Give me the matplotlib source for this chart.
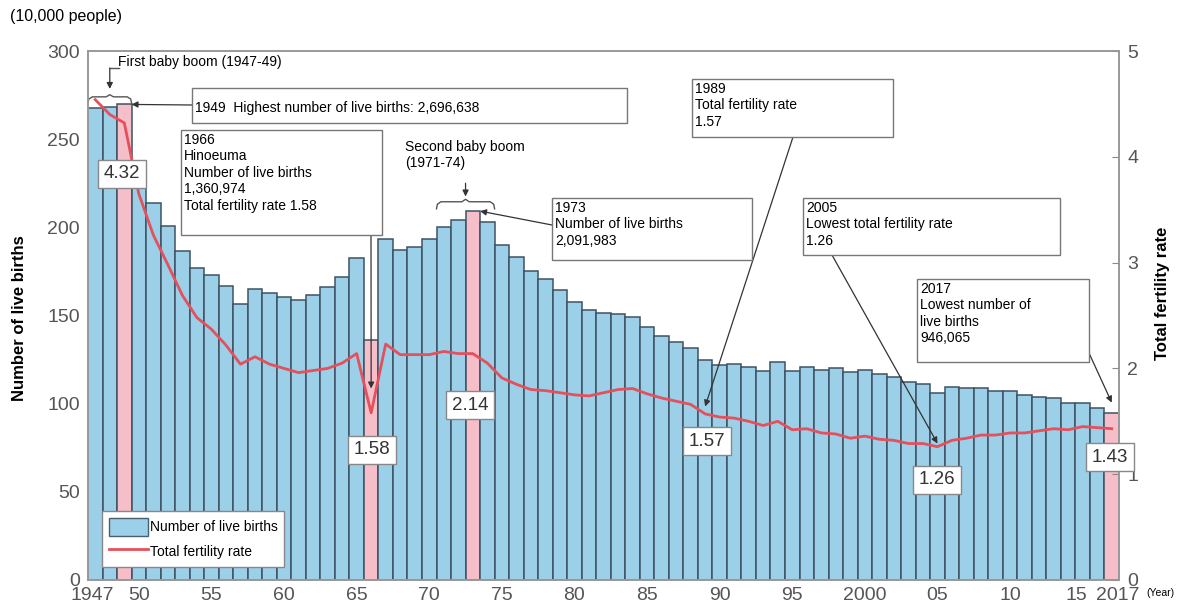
"""Naissances vivantes et indice de fécondité au Japon, 1947-2017."""

import matplotlib

matplotlib.use("Agg")
import matplotlib.pyplot as plt
import matplotlib.transforms as mtransforms
from matplotlib.lines import Line2D
from matplotlib.patches import Patch, Rectangle

plt.rcParams["font.family"] = ["Liberation Sans", "DejaVu Sans"]

# ---- données -------------------------------------------------------------
annees = list(range(1947, 2018))

# naissances vivantes (unité : 10 000 personnes)
naissances = [
    267.9, 268.2, 269.7, 233.8, 213.8, 200.5, 186.8, 177.0, 173.1, 166.5,
    156.7, 165.3, 162.6, 160.6, 158.9, 161.9, 166.0, 171.7, 182.4, 136.1,
    193.6, 187.2, 188.9, 193.4, 200.1, 203.9, 209.2, 203.0, 190.1, 183.3,
    175.5, 170.9, 164.3, 157.7, 152.9, 151.5, 150.9, 149.0, 143.2, 138.3,
    134.7, 131.4, 124.7, 122.2, 122.3, 120.9, 118.8, 123.8, 118.7, 120.7,
    119.2, 120.3, 117.8, 119.1, 117.1, 115.4, 112.4, 111.1, 106.3, 109.3,
    109.0, 109.1, 107.0, 107.1, 105.1, 103.7, 103.0, 100.4, 100.6, 97.7,
    94.6,
]

# indice synthétique de fécondité
fecondite = [
    4.54, 4.40, 4.32, 3.65, 3.26, 2.98, 2.69, 2.48, 2.37, 2.22,
    2.04, 2.11, 2.04, 2.00, 1.96, 1.98, 2.00, 2.05, 2.14, 1.58,
    2.23, 2.13, 2.13, 2.13, 2.16, 2.14, 2.14, 2.05, 1.91, 1.85,
    1.80, 1.79, 1.77, 1.75, 1.74, 1.77, 1.80, 1.81, 1.76, 1.72,
    1.69, 1.66, 1.57, 1.54, 1.53, 1.50, 1.46, 1.50, 1.42, 1.43,
    1.39, 1.38, 1.34, 1.36, 1.33, 1.32, 1.29, 1.29, 1.26, 1.32,
    1.34, 1.37, 1.37, 1.39, 1.39, 1.41, 1.43, 1.42, 1.45, 1.44,
    1.43,
]

annees_roses = [1949, 1966, 1973, 2017]
annees_etiquettes = [1949, 1966, 1973, 1989, 2005, 2017]
baby_booms = [(1947, 1949), (1971, 1974)]

ticks_x = [1947, 1950, 1955, 1960, 1965, 1970, 1975, 1980, 1985, 1990,
           1995, 2000, 2005, 2010, 2015, 2017]
labels_x = ["1947", "50", "55", "60", "65", "70", "75", "80", "85", "90",
            "95", "2000", "05", "10", "15", "2017"]

# ---- style ---------------------------------------------------------------
BLEU = "#9ccfe8"
ROSE = "#f6bec8"
BORD = "#3d5262"
ROUGE = "#e4505c"
GRIS = "#555555"

W, H = 1182, 607


def fpx(x, y):
    """Pixel de l'image (origine en haut à gauche) -> fraction de figure."""
    return (x / W, 1 - y / H)


fig = plt.figure(figsize=(W / 100, H / 100), dpi=100)
ax = fig.add_axes([88 / W, 1 - 580 / H, (1119 - 88) / W, (580 - 51) / H])
ax2 = ax.twinx()

couleurs = [ROSE if a in annees_roses else BLEU for a in annees]
ax.bar(annees, naissances, width=1.0, color=couleurs, edgecolor=BORD,
       linewidth=1.1)
ax2.plot(annees, fecondite, color=ROUGE, lw=2)

ax.set_xlim(annees[0] - 0.5, annees[-1] + 0.5)
ax.set_ylim(0, 300)
ax2.set_ylim(0, 5)
ax.set_yticks(range(0, 301, 50))
ax2.set_yticks(range(0, 6))
ax.set_xticks(ticks_x)
ax.set_xticklabels(labels_x)

ax.tick_params(axis="y", length=0, pad=6, labelsize=14, labelcolor=GRIS)
ax.tick_params(axis="x", length=0, pad=5, labelsize=14, labelcolor=GRIS)
ax2.tick_params(axis="y", direction="in", length=5, color="#888", pad=6,
                labelsize=14, labelcolor=GRIS)
for a in (ax, ax2):
    for s in a.spines.values():
        s.set_color("#999999")
        s.set_linewidth(1.2)

# "15" et "2017" sont écartés l'un de l'autre comme sur l'original
decalages = {"1947": -3, "15": -6, "2017": 6}
for lbl in ax.get_xticklabels():
    dx = decalages.get(lbl.get_text(), 0)
    if dx:
        lbl.set_transform(lbl.get_transform() + mtransforms.ScaledTranslation(
            dx / 100, 0, fig.dpi_scale_trans))

fig.text(*fpx(20, 318), "Number of live births", rotation=90, ha="center",
         va="center", fontsize=12, fontweight="bold")
fig.text(*fpx(1162, 293), "Total fertility rate", rotation=90, ha="center",
         va="center", fontsize=12, fontweight="bold")
fig.text(*fpx(10, 17), "(10,000 people)", ha="left", va="center",
         fontsize=11.5)
fig.text(*fpx(1146, 593), "(Year)", ha="left", va="center", fontsize=7.5)

# ---- légende -------------------------------------------------------------
poignees = [Patch(facecolor=BLEU, edgecolor="#4a6070", lw=1),
            Line2D([], [], color=ROUGE, lw=2)]
leg = ax.legend(poignees, ["Number of live births", "Total fertility rate"],
                loc="lower left", bbox_to_anchor=(0.014, 0.024), fontsize=10,
                frameon=True, fancybox=False, edgecolor="#888888",
                framealpha=1, handlelength=2.8, handleheight=1.6,
                handletextpad=0.1, borderpad=0.5, labelspacing=0.5,
                borderaxespad=0)
leg.get_frame().set_linewidth(1)

# ---- accolades des baby-booms --------------------------------------------
def accolade(debut, fin, y, h):
    x0, x1 = debut - 0.5, fin + 0.5
    xm = (x0 + x1) / 2
    xs = [x0, x0 + 0.06, x0 + 0.3, xm - 0.25, xm, xm + 0.25, x1 - 0.3,
          x1 - 0.06, x1]
    ys = [y - h, y - h * 0.35, y, y, y + h * 0.35, y, y, y - h * 0.35, y - h]
    ax.plot(xs, ys, color="#555555", lw=1, clip_on=False)
    return xm


FLECHE = dict(arrowstyle="-|>", color="#333333", lw=0.9, mutation_scale=9,
              shrinkA=0, shrinkB=0)

xm1 = accolade(*baby_booms[0], 274, 3.5)
ax.plot([xm1, xm1 + 0.62], [290.4, 290.4], color="#555555", lw=1,
        clip_on=False)
ax.annotate("", xy=(xm1, 278.5), xytext=(xm1, 290.4), arrowprops=FLECHE,
            annotation_clip=False)
fig.text(*fpx(118, 62), "First baby boom (1947-49)", ha="left",
         va="center", fontsize=10)

xm2 = accolade(*baby_booms[1], 214.5, 4)
ax.annotate("", xy=(xm2, 217.5), xytext=(xm2, 225), arrowprops=FLECHE)
fig.text(*fpx(405, 140), "Second baby boom\n(1971-74)", ha="left",
         va="top", fontsize=10, linespacing=1.2)


# ---- encadrés ------------------------------------------------------------
def encadre(x0, y0, x1, y1, texte):
    fig.add_artist(Rectangle(fpx(x0, y1), (x1 - x0) / W, (y1 - y0) / H,
                             transform=fig.transFigure, facecolor="white",
                             edgecolor="#777777", lw=1))
    fig.text(*fpx(x0 + 3, y0 + 3), texte, ha="left", va="top", fontsize=10,
             linespacing=1.22)


def fleche(axe, xy, depart):
    axe.annotate("", xy=xy, xytext=fpx(*depart),
                 textcoords="figure fraction", arrowprops=FLECHE)


i = annees.index
encadre(192, 88, 627, 123, "")
fig.text(*fpx(195, 108), "1949  Highest number of live births: 2,696,638",
         ha="left", va="center", fontsize=10)
fleche(ax, (1949.5, naissances[i(1949)]), (192, 105))

encadre(181, 130, 382, 235, "1966\nHinoeuma\nNumber of live births\n"
        "1,360,974\nTotal fertility rate 1.58")
fleche(ax2, (1966, fecondite[i(1966)] + 0.23), (371, 235))

encadre(552, 198, 752, 260, "1973\nNumber of live births\n2,091,983")
fleche(ax, (1973.5, naissances[i(1973)]), (552, 225))

encadre(692, 79, 893, 137, "1989\nTotal fertility rate\n1.57")
fleche(ax2, (1989, fecondite[i(1989)] + 0.07), (793, 137))

encadre(803, 198, 1060, 255, "2005\nLowest total fertility rate\n1.26")
fleche(ax2, (2005, fecondite[i(2005)] + 0.03), (832, 255))

encadre(917, 279, 1089, 362, "2017\nLowest number of\nlive births\n946,065")
fleche(ax, (2017, naissances[i(2017)] + 6), (1089, 353))

# ---- étiquettes de fécondité ----------------------------------------------
positions = {1949: (122, 174), 1966: (372, 450), 1973: (470, 405),
             1989: (707, 441), 2005: (937, 480), 2017: (1110, 457)}
for a in annees_etiquettes:
    fig.text(*fpx(*positions[a]), f"{fecondite[i(a)]:.2f}", ha="center",
             va="center", fontsize=13.5, color="#333333", zorder=5,
             bbox=dict(boxstyle="square,pad=0.3", facecolor="white",
                       edgecolor="#888888", lw=1))

fig.savefig("out.png", dpi=100)
